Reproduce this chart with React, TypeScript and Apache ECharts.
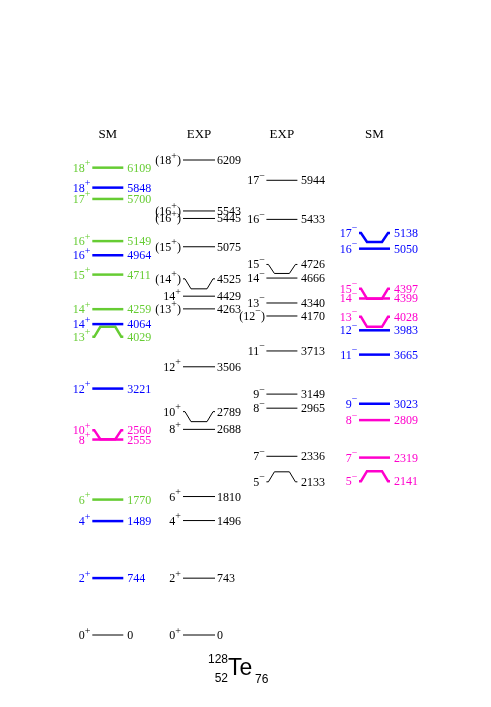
import React, { useEffect, useRef } from 'react';
import * as echarts from 'echarts';

const G = '#66cc33';
const B = '#0000ff';
const M = '#ff00cc';
const K = '#000000';
const SERIF = '"Liberation Serif", "Times New Roman", serif';
const SANS = '"Liberation Sans", Arial, sans-serif';

// column layout (x-axis units)
const COLUMN_TITLES = ['SM', 'EXP', 'EXP', 'SM'];
const COLUMN_X = [107.8, 199, 281.9, 374.5];

// SM positive parity
const smPosEnergy = [0, 744, 1489, 1770, 2555, 2560, 3221, 4029, 4064, 4259, 4711, 4964, 5149, 5700, 5848, 6109];
const smPosSpin = ['0+', '2+', '4+', '6+', '8+', '10+', '12+', '13+', '14+', '14+', '15+', '16+', '16+', '17+', '18+', '18+'];
const smPosColor = [K, B, B, G, M, M, B, G, B, G, G, B, G, G, B, G];
const smPosShift = [0, 0, 0, 0, 0, -9, 0, 10, 0, 0, 0, 0, 0, 0, 0, 0];

// EXP positive parity
const expPosEnergy = [0, 743, 1496, 1810, 2688, 2789, 3506, 4263, 4429, 4525, 5075, 5445, 5543, 6209];
const expPosSpin = ['0+', '2+', '4+', '6+', '8+', '10+', '12+', '(13+)', '14+', '(14+)', '(15+)', '(16+)', '(16+)', '(18+)'];
const expPosShift = [0, 0, 0, 0, 0, -10, 0, 0, 0, -10, 0, 0, 0, 0];

// EXP negative parity
const expNegEnergy = [2133, 2336, 2965, 3149, 3713, 4170, 4340, 4666, 4726, 5433, 5944];
const expNegSpin = ['5-', '7-', '8-', '9-', '11-', '(12-)', '13-', '14-', '15-', '16-', '17-'];
const expNegShift = [10, 0, 0, 0, 0, 0, 0, 0, -9, 0, 0];

// SM negative parity
const smNegEnergy = [2141, 2319, 2809, 3023, 3665, 3983, 4028, 4399, 4397, 5050, 5138];
const smNegSpin = ['5-', '7-', '8-', '9-', '11-', '12-', '13-', '14-', '15-', '16-', '17-'];
const smNegColor = [M, M, M, B, B, B, M, M, M, B, B];
const smNegShift = [10, 0, 0, 0, 0, 0, -10, 0, -10, 0, -9];

const RICH = {
  n: { fontSize: 12, fontFamily: SERIF },
  s: { fontSize: 10, fontFamily: SERIF, padding: [0, 0, 10, 0] },
};

function spinRich(s: string) {
  const m = s.match(/^(\(?)(\d+)([+\-])(\)?)$/);
  if (!m) return s;
  const sign = m[3] === '-' ? '\u2212' : '+';
  let out = `{n|${m[1]}${m[2]}}{s|${sign}}`;
  if (m[4]) out += `{n|${m[4]}}`;
  return out;
}

interface Col {
  energy: number[];
  spin: string[];
  color: string[];
  textColor: string[];
  shift: number[];
  half: number;
  gapL: number;
  gapR: number;
  width: number;
}

function makeRenderItem(col: Col) {
  return (params: any, api: any) => {
    const i = params.dataIndex;
    const e = api.value(1);
    const p = api.coord([api.value(0), e]);
    const cx = p[0];
    const y = p[1];
    const shift = col.shift[i];
    const yl = y + shift;
    const x1 = cx - col.half;
    const x2 = cx + col.half;
    const color = col.color[i];
    const lw = color === K ? 1 : col.width;
    let line: any;
    if (shift === 0) {
      line = { type: 'line', shape: { x1, y1: y, x2, y2: y }, style: { stroke: color, lineWidth: lw } };
    } else {
      line = {
        type: 'polyline',
        shape: { points: [[x1, yl], [x1 + 2, yl], [x1 + 8, y], [x2 - 8, y], [x2 - 2, yl], [x2, yl]] },
        style: { stroke: color, lineWidth: lw, fill: 'none' },
      };
    }
    const tc = col.textColor[i];
    const spin = {
      type: 'text',
      style: {
        x: x1 - col.gapL, y: yl, text: spinRich(col.spin[i]), align: 'right', verticalAlign: 'middle',
        fill: tc, fontFamily: SERIF, fontSize: 12, rich: RICH,
      },
    };
    const en = {
      type: 'text',
      style: {
        x: x2 + col.gapR, y: yl, text: String(e), align: 'left', verticalAlign: 'middle',
        fill: tc, fontFamily: SERIF, fontSize: 12,
      },
    };
    return { type: 'group', children: [line, spin, en] };
  };
}

export default function App() {
  const ref = useRef<HTMLDivElement>(null);
  useEffect(() => {
    if (!ref.current) return;
    const chart = echarts.init(ref.current, undefined, { renderer: 'svg' });
    const cols: Col[] = [
      { energy: smPosEnergy, spin: smPosSpin, color: smPosColor, textColor: smPosColor, shift: smPosShift, half: 15.5, gapL: 2, gapR: 4, width: 2.5 },
      { energy: expPosEnergy, spin: expPosSpin, color: expPosEnergy.map(() => K), textColor: expPosEnergy.map(() => K), shift: expPosShift, half: 16, gapL: 2, gapR: 2, width: 1 },
      { energy: expNegEnergy, spin: expNegSpin, color: expNegEnergy.map(() => K), textColor: expNegEnergy.map(() => K), shift: expNegShift, half: 15.5, gapL: 1.5, gapR: 3.5, width: 1 },
      { energy: smNegEnergy, spin: smNegSpin, color: smNegColor, textColor: smNegColor, shift: smNegShift, half: 15.5, gapL: 1.5, gapR: 4, width: 2.5 },
    ];
    const series: any[] = cols.map((c, ci) => ({
      type: 'custom',
      silent: true,
      renderItem: makeRenderItem(c),
      data: c.energy.map((e) => [COLUMN_X[ci], e]),
    }));
    series.push({
      type: 'custom',
      silent: true,
      renderItem: (params: any, api: any) => {
        const p = api.coord([api.value(0), 0]);
        return {
          type: 'text',
          style: {
            x: p[0], y: 133, text: COLUMN_TITLES[params.dataIndex], align: 'center', verticalAlign: 'middle',
            fill: '#000', fontFamily: SERIF, fontSize: 13,
          },
        };
      },
      data: COLUMN_X.map((x) => [x, 0]),
    });
    chart.setOption({
      animation: false,
      grid: { left: 0, right: 0, top: 99.5, bottom: 72 },
      xAxis: { type: 'value', min: 0, max: 491, show: false },
      yAxis: { type: 'value', min: 0, max: 7000, show: false },
      series,
      graphic: [
        { type: 'text', style: { x: 228, y: 659, text: '128', align: 'right', verticalAlign: 'middle', fill: '#000', fontFamily: SANS, fontSize: 12 } },
        { type: 'text', style: { x: 228, y: 667, text: 'Te', align: 'left', verticalAlign: 'middle', fill: '#000', fontFamily: SANS, fontSize: 23 } },
        { type: 'text', style: { x: 228, y: 678, text: '52', align: 'right', verticalAlign: 'middle', fill: '#000', fontFamily: SANS, fontSize: 12 } },
        { type: 'text', style: { x: 255, y: 679, text: '76', align: 'left', verticalAlign: 'middle', fill: '#000', fontFamily: SANS, fontSize: 12 } },
      ],
    });
    return () => chart.dispose();
  }, []);
  return <div ref={ref} style={{ position: 'fixed', left: 0, top: 0, width: 491, height: 707 }} />;
}
